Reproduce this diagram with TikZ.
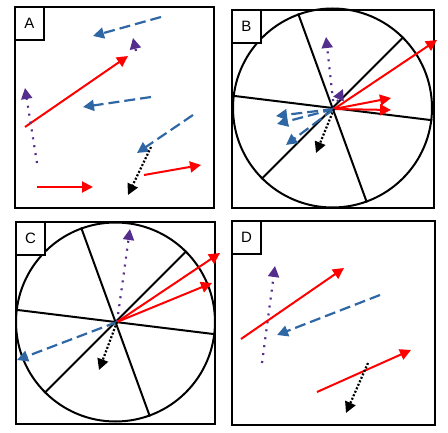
\documentclass[tikz,border=0pt]{standalone}
\usepackage{fontspec}
\setmainfont{Liberation Sans}
\usepackage{tikz}
\usetikzlibrary{arrows.meta,positioning}
\definecolor{flowblue}{RGB}{47,103,165}
\definecolor{flowpurple}{RGB}{84,46,140}
\definecolor{flowred}{RGB}{255,0,0}

\begin{document}
\begin{tikzpicture}[x=1pt, y=-1pt,
    panel/.style={rectangle, draw=black, line width=2pt, anchor=north west, inner sep=0pt},
    tag/.style={rectangle, draw=black, fill=white, line width=2pt, anchor=north west,
                minimum width=29pt, minimum height=33pt, inner sep=0pt, font=\fontsize{15}{15}\selectfont},
    wheel/.style={circle, draw=black, line width=2pt, inner sep=0pt},
    spoke/.style={line width=2pt, black},
    redarr/.style={-{Triangle[length=11pt,width=11pt]}, line width=2pt, flowred},
    bluearr/.style={-{Triangle[length=11pt,width=11pt]}, line width=2.2pt, flowblue, dash pattern=on 11pt off 5pt},
    purparr/.style={-{Triangle[length=11pt,width=11pt]}, line width=2.2pt, flowpurple, dash pattern=on 2pt off 6pt},
    blackarr/.style={-{Triangle[length=11pt,width=11pt]}, line width=2.2pt, black, dash pattern=on 2pt off 1.8pt}
]
    \useasboundingbox (0,0) rectangle (448,433);

    % panel A
    \node[panel, minimum width=199pt, minimum height=201pt] (panelA) at (14,6) {};
    \node[tag] (tagA) at (panelA.north west) {A};
    \draw[bluearr] (161,17) -- (93,36);
    \draw[purparr] (136,51) -- (133,38);
    \draw[redarr] (25,127) -- (128,56);
    \draw[purparr] (37,163) -- (25,88);
    \draw[bluearr] (151,97) -- (83,107);
    \draw[bluearr] (193,115) -- (137,153);
    \draw[blackarr] (151,147) -- (128,195);
    \draw[redarr] (144,175) -- (201,165);
    \draw[redarr] (37,187) -- (93,187);

    % panel B
    \node[panel, minimum width=202pt, minimum height=198pt] (panelB) at (231,9) {};
    \node[wheel, minimum size=199pt] (wheelB) at (332.5,108) {};
    \draw[spoke] (wheelB.110) -- (wheelB.-70);
    \draw[spoke] (wheelB.173) -- (wheelB.-7);
    \draw[spoke] (wheelB.45) -- (wheelB.225);
    \node[tag] (tagB) at (panelB.north west) {B};
    \coordinate (hubB) at (334,109);
    \draw[purparr] (hubB) -- (326,37);
    \draw[purparr] (hubB) -- (343,89);
    \draw[redarr] (hubB) -- (437,40);
    \draw[redarr] (hubB) -- (391,98);
    \draw[redarr] (hubB) -- (391,110);
    \draw[bluearr] (hubB) -- (276,116);
    \draw[bluearr] (hubB) -- (277,124);
    \draw[bluearr] (hubB) -- (286,145);
    \draw[blackarr] (hubB) -- (316,153);

    % panel C
    \node[panel, minimum width=199pt, minimum height=202pt] (panelC) at (15,221) {};
    \node[wheel, minimum size=199pt] (wheelC) at (115.5,322) {};
    \draw[spoke] (wheelC.110) -- (wheelC.-70);
    \draw[spoke] (wheelC.173) -- (wheelC.-7);
    \draw[spoke] (wheelC.45) -- (wheelC.225);
    \node[tag] (tagC) at (panelC.north west) {C};
    \coordinate (hubC) at (117,322);
    \draw[purparr] (hubC) -- (130,229);
    \draw[redarr] (hubC) -- (220,253);
    \draw[redarr] (hubC) -- (212,283);
    \draw[bluearr] (hubC) -- (17,360);
    \draw[blackarr] (hubC) -- (99,370);

    % panel D
    \node[panel, minimum width=203pt, minimum height=204pt] (panelD) at (231,220) {};
    \node[tag] (tagD) at (panelD.north west) {D};
    \draw[purparr] (262,363) -- (275,266);
    \draw[redarr] (241,339) -- (344,268);
    \draw[bluearr] (380,295) -- (277,335);
    \draw[redarr] (317,392) -- (411,350);
    \draw[blackarr] (368,363) -- (346,413);
\end{tikzpicture}
\end{document}
